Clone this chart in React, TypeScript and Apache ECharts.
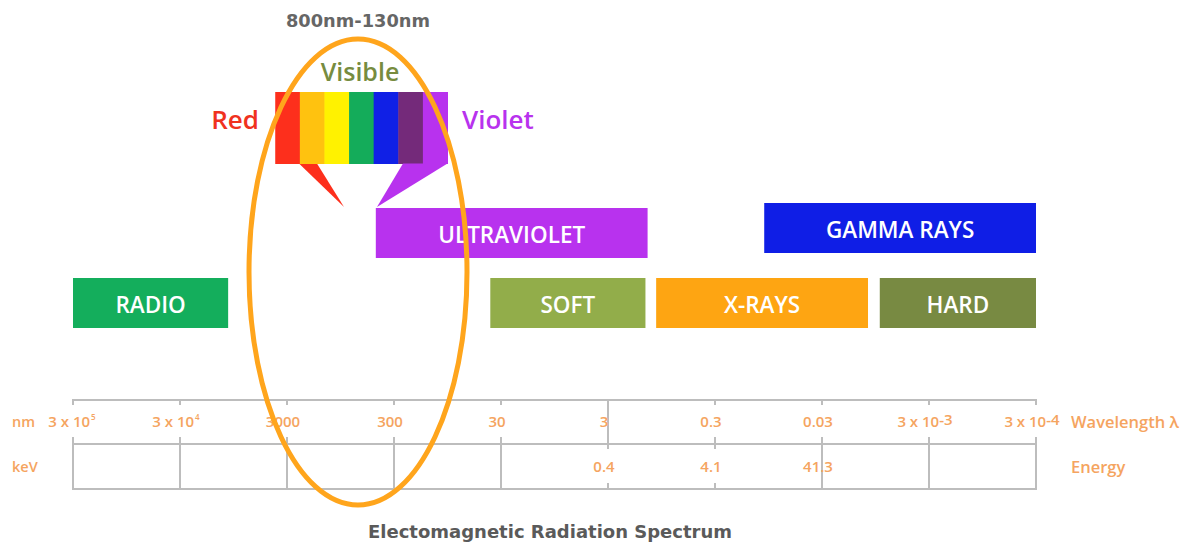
import React, { useEffect, useRef } from "react";
import * as echarts from "echarts";

// ---- Data ----
// Wavelength axis decades: exponent e of λ = 3 x 10^e nm
const tickExponents = [5, 4, 3, 2, 1, 0, -1, -2, -3, -4];
const wavelengthLabels = ["3 x 10{s|5}", "3 x 10{s|4}", "3000", "300", "30", "3", "0.3", "0.03", "3 x 10{e|-3}", "3 x 10{e|-4}"];
const energyLabels = ["", "", "", "", "", "0.4", "4.1", "41.3", "", ""];
const wavelengthDividers = [0, 0, 0, 0, 0, 1, 0, 0, 0, 0];
const energyDividers = [1, 1, 1, 1, 1, 0, 0, 1, 1, 1];

// Bands (start / end expressed as wavelength exponent)
const bandNames = ["RADIO", "ULTRAVIOLET", "SOFT", "X-RAYS", "HARD", "GAMMA RAYS"];
const bandStart = [5, 2.17, 1.1, -0.45, -2.54, -1.46];
const bandEnd = [3.55, -0.37, -0.35, -2.43, -4, -4];
const bandRow = ["low", "mid", "low", "low", "low", "high"];
const bandColors = ["#14ae5c", "#b832ee", "#92ad4a", "#fea512", "#788a42", "#0f1ee6"];

// Visible spectrum strips (edges as wavelength exponent)
const visibleEdges = [3.11, 2.88, 2.65, 2.42, 2.19, 1.96, 1.73, 1.5];
const visibleColors = ["#fd2f1c", "#ffc20f", "#fff200", "#14ac5a", "#1020e6", "#742a7a", "#b832ee"];

// ---- Layout / style ----
const FONT = "'Open Sans', 'Noto Sans', sans-serif";
const DJ = "'DejaVu Sans', sans-serif";
const ORANGE = "#f5a460";
const GRIDC = "#bdbdbd";
const ROW_TOP: Record<string, number> = { high: 203, mid: 208, low: 278 };
const BAR_H = 50;
const LINE_Y = [400, 444, 489];
const WL_Y = 421;
const EN_Y = 466;
const STRIP_TOP = 92;
const STRIP_BOT = 164;
const TAIL_TIP_Y = 207;

export default function App() {
  const ref = useRef<HTMLDivElement>(null);
  useEffect(() => {
    if (!ref.current) return;
    const chart = echarts.init(ref.current, undefined, { renderer: "svg" });
    const ls = { stroke: GRIDC, lineWidth: 2 };
    const vline = (x: number, y1: number, y2: number) => ({ type: "line", shape: { x1: x, y1, x2: x, y2 }, style: ls });

    const option: any = {
      animation: false,
      grid: { left: 73, right: 149, top: 0, bottom: 0 },
      xAxis: { type: "value", min: -4, max: 5, inverse: true, show: false },
      yAxis: { type: "value", min: 0, max: 542, inverse: true, show: false },
      series: [
        {
          type: "custom",
          name: "bands",
          clip: false,
          data: bandNames.map((_, i) => [bandStart[i], bandEnd[i]]),
          renderItem: (params: any, api: any) => {
            const i = params.dataIndex;
            const top = api.coord([0, ROW_TOP[bandRow[i]]])[1];
            const bot = api.coord([0, ROW_TOP[bandRow[i]] + BAR_H])[1];
            const a = api.coord([api.value(0), 0])[0];
            const b = api.coord([api.value(1), 0])[0];
            const x = Math.min(a, b);
            const w = Math.abs(b - a);
            return {
              type: "group",
              children: [
                { type: "rect", shape: { x, y: top, width: w, height: bot - top }, style: { fill: bandColors[i] } },
                {
                  type: "text",
                  style: {
                    text: bandNames[i], x: x + w / 2, y: (top + bot) / 2 + 1, align: "center", verticalAlign: "middle",
                    fill: "#ffffff", fontSize: 22.5, fontWeight: 600, fontFamily: FONT,
                  },
                },
              ],
            };
          },
        },
        {
          type: "custom",
          name: "visible",
          clip: false,
          data: visibleColors.map((_, i) => [visibleEdges[i], visibleEdges[i + 1]]),
          renderItem: (params: any, api: any) => {
            const i = params.dataIndex;
            const a = api.coord([api.value(0), STRIP_TOP]);
            const b = api.coord([api.value(1), STRIP_BOT]);
            const children: any[] = [
              { type: "rect", shape: { x: a[0], y: a[1], width: b[0] - a[0] + 0.5, height: b[1] - a[1] }, style: { fill: visibleColors[i] } },
            ];
            if (i === 0) {
              const p1 = api.coord([2.888, STRIP_BOT]);
              const p2 = api.coord([2.72, STRIP_BOT]);
              const p3 = api.coord([2.467, TAIL_TIP_Y]);
              children.push({ type: "polygon", shape: { points: [[p1[0], p1[1] - 0.5], [p2[0], p2[1] - 0.5], p3] }, style: { fill: visibleColors[i] } });
            }
            if (i === visibleColors.length - 1) {
              const p1 = api.coord([1.916, STRIP_BOT]);
              const p2 = api.coord([1.5, STRIP_BOT]);
              const p3 = api.coord([2.159, TAIL_TIP_Y]);
              children.push({ type: "polygon", shape: { points: [[p1[0], p1[1] - 0.5], [p2[0], p2[1] - 0.5], p3] }, style: { fill: visibleColors[i] } });
            }
            return { type: "group", children };
          },
        },
        {
          type: "custom",
          name: "axis",
          clip: false,
          data: tickExponents.map((e, i) => [e, i]),
          renderItem: (params: any, api: any) => {
            const i = params.dataIndex;
            const x = api.coord([api.value(0), 0])[0];
            const children: any[] = [];
            if (i === 0) {
              const x0 = api.coord([tickExponents[0], 0])[0];
              const x1 = api.coord([tickExponents[tickExponents.length - 1], 0])[0];
              LINE_Y.forEach((y) => children.push({ type: "line", shape: { x1: x0 - 1, y1: y, x2: x1 + 1, y2: y }, style: ls }));
            }
            if (wavelengthDividers[i]) children.push(vline(x, LINE_Y[0], LINE_Y[1]));
            else {
              children.push(vline(x, LINE_Y[0], LINE_Y[0] + 5));
              children.push(vline(x, LINE_Y[1] - 7, LINE_Y[1]));
            }
            if (energyDividers[i]) children.push(vline(x, LINE_Y[1], LINE_Y[2]));
            else {
              children.push(vline(x, LINE_Y[1], LINE_Y[1] + 5));
              children.push(vline(x, LINE_Y[2] - 6, LINE_Y[2]));
            }
            children.push({
              type: "text",
              z2: 5,
              style: {
                text: wavelengthLabels[i], x: x - 4 + (i === 0 ? 3 : 0), y: WL_Y, align: "center", verticalAlign: "middle",
                fill: ORANGE, fontSize: 15, fontWeight: 600, fontFamily: FONT,
                rich: {
                  s: { fontSize: 8, verticalAlign: "top", fill: ORANGE, fontFamily: FONT, fontWeight: 600, padding: [0, 0, 9, 1] },
                  e: { fontSize: 15, verticalAlign: "top", fill: ORANGE, fontFamily: FONT, fontWeight: 600, padding: [0, 0, 5, 0] },
                },
              },
            });
            if (energyLabels[i]) {
              children.push({
                type: "text",
                z2: 5,
                style: {
                  text: energyLabels[i], x: x - 4, y: EN_Y, align: "center", verticalAlign: "middle",
                  fill: ORANGE, fontSize: 15, fontWeight: 600, fontFamily: FONT,
                },
              });
            }
            return { type: "group", children };
          },
        },
      ],
      graphic: [
        { type: "text", x: 358, y: 20, style: { text: "800nm-130nm", align: "center", verticalAlign: "middle", fill: "#666666", fontSize: 17.8, fontWeight: "bold", fontFamily: DJ } },
        { type: "text", x: 360, y: 71, style: { text: "Visible", align: "center", verticalAlign: "middle", fill: "#778c3f", fontSize: 25, fontWeight: 600, fontFamily: FONT } },
        { type: "text", x: 259, y: 119, style: { text: "Red", align: "right", verticalAlign: "middle", fill: "#f0321e", fontSize: 26, fontWeight: 600, fontFamily: FONT } },
        { type: "text", x: 462, y: 119, style: { text: "Violet", align: "left", verticalAlign: "middle", fill: "#b832ee", fontSize: 26, fontWeight: 600, fontFamily: FONT } },
        { type: "text", x: 12, y: WL_Y, style: { text: "nm", align: "left", verticalAlign: "middle", fill: ORANGE, fontSize: 14.5, fontWeight: 600, fontFamily: FONT } },
        { type: "text", x: 12, y: EN_Y, style: { text: "keV", align: "left", verticalAlign: "middle", fill: ORANGE, fontSize: 14.5, fontWeight: 600, fontFamily: FONT } },
        { type: "text", x: 1071, y: WL_Y, style: { text: "Wavelength λ", align: "left", verticalAlign: "middle", fill: ORANGE, fontSize: 16.5, fontWeight: 600, fontFamily: FONT } },
        { type: "text", x: 1071, y: EN_Y, style: { text: "Energy", align: "left", verticalAlign: "middle", fill: ORANGE, fontSize: 16.5, fontWeight: 600, fontFamily: FONT } },
        { type: "text", x: 550, y: 531, style: { text: "Electomagnetic Radiation Spectrum", align: "center", verticalAlign: "middle", fill: "#5a5a5a", fontSize: 18, fontWeight: "bold", fontFamily: DJ } },
        { type: "ellipse", z: 100, shape: { cx: 358, cy: 272, rx: 109, ry: 233 }, style: { fill: "none", stroke: "#ffa51c", lineWidth: 5 } },
      ],
    };
    chart.setOption(option);
    return () => chart.dispose();
  }, []);
  return <div ref={ref} style={{ position: "fixed", left: 0, top: 0, width: 1185, height: 542, background: "#ffffff" }} />;
}
